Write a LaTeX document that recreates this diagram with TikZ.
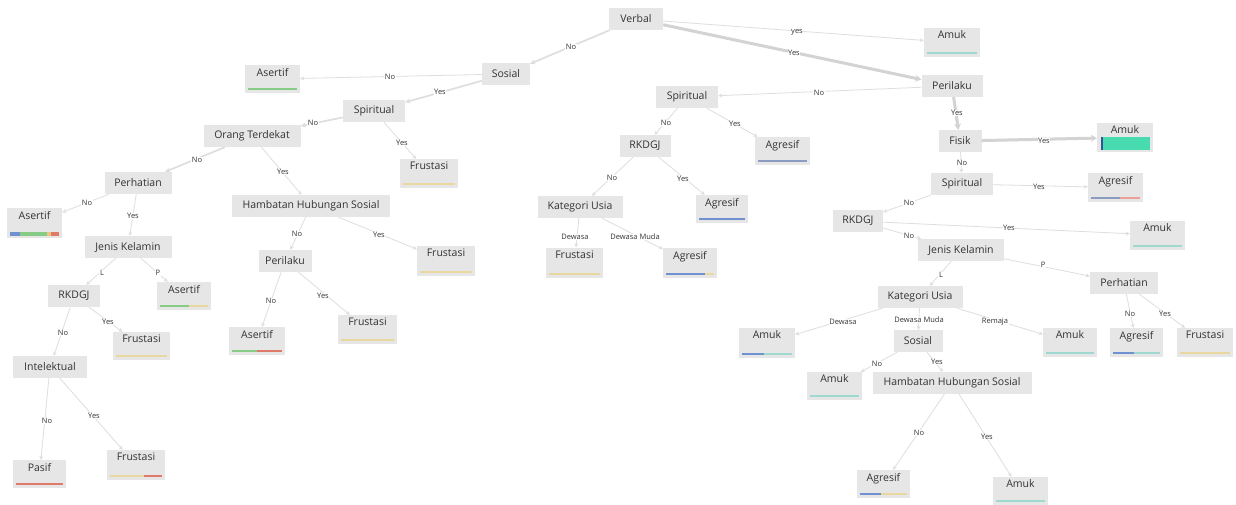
\documentclass[tikz,border=0pt]{standalone}
\usepackage{fontspec}
\setmainfont{Open Sans}
\usetikzlibrary{arrows.meta,calc}
\definecolor{boxgray}{HTML}{E6E6E6}
\definecolor{edgegray}{HTML}{DEDEDE}
\definecolor{txt}{HTML}{333333}
\definecolor{bgreen}{HTML}{86CC86}
\definecolor{bblue}{HTML}{7090D0}
\definecolor{bred}{HTML}{E07A68}
\definecolor{byellow}{HTML}{E8D8A0}
\definecolor{bteal}{HTML}{9ED8CF}
\definecolor{tealfill}{HTML}{48DBB0}
\definecolor{dblue}{HTML}{2F5597}
\definecolor{bgblue}{HTML}{8A9CC0}
\tikzset{
  x=1pt, y=-1pt,
  dec/.style={fill=boxgray, inner sep=0pt, minimum height=22pt, text=txt, font=\fontsize{10.5}{12}\selectfont},
  leafbox/.style={fill=boxgray, inner sep=0pt},
  leaftext/.style={anchor=north, inner sep=1pt, text=txt, font=\fontsize{10.5}{12}\selectfont},
  lbl/.style={fill=white, inner sep=0.6pt, text=txt, font=\fontsize{7.5}{9}\selectfont},
  conn/.style={draw=edgegray, line width=0.8pt, -{Stealth[length=4pt,width=4pt]}},
  connB/.style={draw=edgegray, line width=1.7pt, -{Stealth[length=5pt,width=5pt]}},
  connT/.style={draw=edgegray!95!black, line width=3pt, -{Stealth[length=6pt,width=7pt]}},
}
\newcommand\dnode[5]{\node[dec, minimum width=#4pt] (#1) at (#2,#3) {#5};}
\newcommand\lnode[6]{\node[leafbox, minimum width=#4pt, minimum height=#5pt] (#1) at (#2,#3) {};
  \node[leaftext] (#1-t) at ([yshift=-2pt]#1.north) {#6};}
\newcommand\lbar[2]{\foreach \c/\a/\b in {#2} {\fill[\c] ($([xshift=3pt,yshift=3pt]#1.south west)!\a!([xshift=-3pt,yshift=3pt]#1.south east)$) rectangle ($([xshift=3pt,yshift=5pt]#1.south west)!\b!([xshift=-3pt,yshift=5pt]#1.south east)$);}}
\begin{document}
\begin{tikzpicture}
\fill[white] (0,0) rectangle (1236,504);
\useasboundingbox (0,0) rectangle (1236,504);
% decision nodes
\dnode{verbal}{636}{19}{54}{Verbal}
\dnode{sosialL}{506}{74}{48}{Sosial}
\dnode{perilakuR}{952}{86}{61}{Perilaku}
\dnode{spiritM}{687}{97}{62}{Spiritual}
\dnode{spiritL}{374}{111}{62}{Spiritual}
\dnode{orang}{252}{136}{97}{Orang Terdekat}
\dnode{fisik}{960}{141}{43}{Fisik}
\dnode{rkdgjM}{645}{146}{51}{RKDGJ}
\dnode{perhatL}{138}{183}{67}{Perhatian}
\dnode{spiritR}{962}{184}{62}{Spiritual}
\dnode{hambL}{311}{206}{158}{Hambatan Hubungan Sosial}
\dnode{katM}{580}{207}{85}{Kategori Usia}
\dnode{rkdgjR}{858}{221}{50}{RKDGJ}
\dnode{jenisL}{128}{247}{87}{Jenis Kelamin}
\dnode{jenisR}{961}{250}{86}{Jenis Kelamin}
\dnode{perilakuL}{285}{261}{53}{Perilaku}
\dnode{perhatR}{1124}{283}{68}{Perhatian}
\dnode{rkdgjL}{74}{296}{52}{RKDGJ}
\dnode{katR}{920}{297}{85}{Kategori Usia}
\dnode{sosialR}{918}{341}{49}{Sosial}
\dnode{intel}{50}{367}{74}{Intelektual}
\dnode{hambR}{952}{383}{159}{Hambatan Hubungan Sosial}
% leaves
\lnode{amukT}{952}{42.5}{56}{29}{Amuk}
\lnode{asertifT}{272.5}{79}{55}{28}{Asertif}
\lnode{amukTeal}{1125}{137.5}{56}{29}{Amuk}
\lnode{agresM1}{782.5}{151}{55}{28}{Agresif}
\lnode{frusL1}{429}{173.5}{58}{29}{Frustasi}
\lnode{agresR1}{1115.5}{187.5}{55}{29}{Agresif}
\lnode{agresM2}{722}{209}{52}{28}{Agresif}
\lnode{asertifL}{34.5}{223}{55}{30}{Asertif}
\lnode{amukR2}{1157.5}{235}{55}{29}{Amuk}
\lnode{frusL2}{446}{261}{58}{30}{Frustasi}
\lnode{frusM}{574.5}{262.5}{57}{30}{Frustasi}
\lnode{agresM3}{690}{263}{54}{30}{Agresif}
\lnode{asertifP}{184}{296}{54}{28}{Asertif}
\lnode{frusL3}{367.5}{329.5}{59}{29}{Frustasi}
\lnode{asertifPer}{257}{341}{56}{28}{Asertif}
\lnode{frusRK}{141.5}{346}{57}{28}{Frustasi}
\lnode{amukDew}{767}{343}{56}{30}{Amuk}
\lnode{amukRem}{1070}{342.5}{54}{29}{Amuk}
\lnode{agresPer}{1136.5}{342.5}{53}{29}{Agresif}
\lnode{frusPer}{1205}{342.5}{56}{29}{Frustasi}
\lnode{amukSos}{834.5}{386}{55}{28}{Amuk}
\lnode{frusBot}{136}{465}{58}{30}{Frustasi}
\lnode{pasif}{39.5}{474}{53}{28}{Pasif}
\lnode{agresBot}{883.5}{484}{53}{28}{Agresif}
\lnode{amukBot}{1020.5}{491}{55}{28}{Amuk}
% bars
\lbar{amukT}{bteal/0/1}
\lbar{asertifT}{bgreen/0/1}
\lbar{agresM1}{bgblue/0/1}
\lbar{frusL1}{byellow/0/1}
\lbar{agresR1}{bgblue/0/0.6,bred!70/0.6/1}
\lbar{agresM2}{bblue/0/1}
\lbar{amukR2}{bteal/0/1}
\lbar{frusL2}{byellow/0/1}
\lbar{frusM}{byellow/0/1}
\lbar{agresM3}{bblue/0/0.8,byellow/0.8/1}
\lbar{asertifP}{bgreen/0/0.6,byellow/0.6/1}
\lbar{frusL3}{byellow/0/1}
\lbar{asertifPer}{bgreen/0/0.5,bred/0.5/1}
\lbar{frusRK}{byellow/0/1}
\lbar{amukDew}{bblue/0/0.45,bteal/0.45/1}
\lbar{amukRem}{bteal/0/1}
\lbar{agresPer}{bblue/0/0.45,bteal/0.45/1}
\lbar{frusPer}{byellow/0/1}
\lbar{amukSos}{bteal/0/1}
\lbar{frusBot}{byellow/0/0.65,bred/0.65/1}
\lbar{pasif}{bred/0/1}
\lbar{agresBot}{bblue/0/0.45,byellow/0.45/1}
\lbar{amukBot}{bteal/0/1}
% special bars
\foreach \c/\a/\b in {bblue/0/0.2,bgreen/0.2/0.75,byellow!80!orange/0.75/0.84,bred/0.84/1}
  {\fill[\c] ($([xshift=3pt,yshift=2pt]asertifL.south west)!\a!([xshift=-3pt,yshift=2pt]asertifL.south east)$) rectangle ($([xshift=3pt,yshift=6pt]asertifL.south west)!\b!([xshift=-3pt,yshift=6pt]asertifL.south east)$);}
\fill[tealfill] ([xshift=4pt,yshift=2pt]amukTeal.south west) rectangle ([xshift=-3pt,yshift=15pt]amukTeal.south east);
\fill[dblue] ([xshift=4pt,yshift=2pt]amukTeal.south west) rectangle ([xshift=6pt,yshift=15pt]amukTeal.south west);
% connectors
\draw[connB] (verbal) -- (sosialL);
\draw[conn] (verbal) -- (amukT);
\draw[connT] (verbal) -- (perilakuR);
\draw[conn] (sosialL) -- (asertifT);
\draw[connB] (sosialL) -- (spiritL);
\draw[conn] (perilakuR) -- (spiritM);
\draw[connT] (perilakuR) -- (fisik);
\draw[connB] (spiritL) -- (orang);
\draw[conn] (spiritL) -- (frusL1);
\draw[conn] (spiritM) -- (rkdgjM);
\draw[conn] (spiritM) -- (agresM1);
\draw[connT] (fisik) -- (amukTeal);
\draw[conn] (fisik) -- (spiritR);
\draw[connB] (orang) -- (perhatL);
\draw[conn] (orang) -- (hambL);
\draw[conn] (rkdgjM) -- (katM);
\draw[conn] (rkdgjM) -- (agresM2);
\draw[conn] (spiritR) -- (agresR1);
\draw[conn] (spiritR) -- (rkdgjR);
\draw[conn] (perhatL) -- (asertifL);
\draw[conn] (perhatL) -- (jenisL);
\draw[conn] (katM) -- (frusM);
\draw[conn] (katM) -- (agresM3);
\draw[conn] (rkdgjR) -- (amukR2);
\draw[conn] (rkdgjR) -- (jenisR);
\draw[conn] (hambL) -- (perilakuL);
\draw[conn] (hambL) -- (frusL2);
\draw[conn] (jenisL) -- (rkdgjL);
\draw[conn] (jenisL) -- (asertifP);
\draw[conn] (jenisR) -- (katR);
\draw[conn] (jenisR) -- (perhatR);
\draw[conn] (perilakuL) -- (asertifPer);
\draw[conn] (perilakuL) -- (frusL3);
\draw[conn] (rkdgjL) -- (intel);
\draw[conn] (rkdgjL) -- (frusRK);
\draw[conn] (katR) -- (amukDew);
\draw[conn] (katR) -- (sosialR);
\draw[conn] (katR) -- (amukRem);
\draw[conn] (perhatR) -- (agresPer);
\draw[conn] (perhatR) -- (frusPer);
\draw[conn] (sosialR) -- (amukSos);
\draw[conn] (sosialR) -- (hambR);
\draw[conn] (intel) -- (pasif);
\draw[conn] (intel) -- (frusBot);
\draw[conn] (hambR) -- (agresBot);
\draw[conn] (hambR) -- (amukBot);
% labels
\node[lbl] (l1) at (571,47) {No};
\node[lbl] (l2) at (797,32) {yes};
\node[lbl] (l3) at (794,53) {Yes};
\node[lbl] (l4) at (390,77) {No};
\node[lbl] (l5) at (440,92) {Yes};
\node[lbl] (l6) at (819,93) {No};
\node[lbl] (l7) at (957,113) {Yes};
\node[lbl] (l8) at (313,123) {No};
\node[lbl] (l9) at (402,143) {Yes};
\node[lbl] (l10) at (666,123) {No};
\node[lbl] (l11) at (735,124) {Yes};
\node[lbl] (l12) at (1044,141) {Yes};
\node[lbl] (l13) at (962,163) {No};
\node[lbl] (l14) at (197,160) {No};
\node[lbl] (l15) at (283,172) {Yes};
\node[lbl] (l16) at (612,178) {No};
\node[lbl] (l17) at (683,179) {Yes};
\node[lbl] (l18) at (1039,187) {Yes};
\node[lbl] (l19) at (909,203) {No};
\node[lbl] (l20) at (87,203) {No};
\node[lbl] (l21) at (133,216) {Yes};
\node[lbl] (l22) at (575,237) {Dewasa};
\node[lbl] (l23) at (635,237) {Dewasa Muda};
\node[lbl] (l24) at (1009,228) {Yes};
\node[lbl] (l25) at (909,236) {No};
\node[lbl] (l26) at (297,234) {No};
\node[lbl] (l27) at (379,235) {Yes};
\node[lbl] (l28) at (102,273) {L};
\node[lbl] (l29) at (158,273) {P};
\node[lbl] (l30) at (941,275) {L};
\node[lbl] (l31) at (1043,265) {P};
\node[lbl] (l32) at (271,301) {No};
\node[lbl] (l33) at (323,296) {Yes};
\node[lbl] (l34) at (63,333) {No};
\node[lbl] (l35) at (108,322) {Yes};
\node[lbl] (l36) at (843,322) {Dewasa};
\node[lbl] (l37) at (919,320) {Dewasa Muda};
\node[lbl] (l38) at (995,322) {Remaja};
\node[lbl] (l39) at (1130,314) {No};
\node[lbl] (l40) at (1165,314) {Yes};
\node[lbl] (l41) at (877,364) {No};
\node[lbl] (l42) at (937,362) {Yes};
\node[lbl] (l43) at (47,421) {No};
\node[lbl] (l44) at (94,416) {Yes};
\node[lbl] (l45) at (919,433) {No};
\node[lbl] (l46) at (987,437) {Yes};
\end{tikzpicture}
\end{document}
